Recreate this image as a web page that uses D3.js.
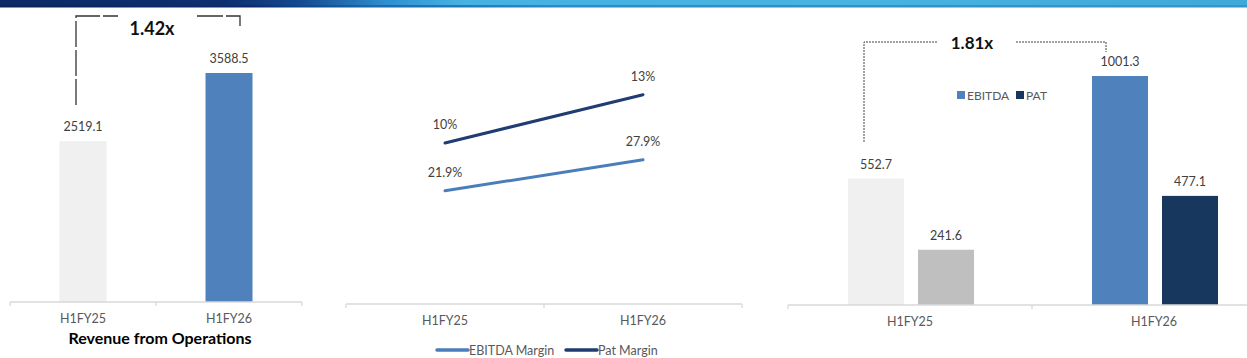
<!DOCTYPE html>
<html><head><meta charset="utf-8">
<script src="https://cdn.jsdelivr.net/npm/d3@7/dist/d3.min.js"></script>
<style>
html,body{margin:0;padding:0;background:#fff;}
svg{display:block;}
text{font-family:Lato,"Open Sans",sans-serif;}
</style></head><body>
<svg id="c" width="1247" height="358"></svg>
<script>
// ---- data ----
const categories = ["H1FY25", "H1FY26"];
const revenue = [2519.1, 3588.5];
const revenueColors = ["#f0f0f0", "#4f81bd"];
const revenueTitle = "Revenue from Operations";
const revenueMultiple = "1.42x";

const marginSeries = ["EBITDA Margin", "Pat Margin"];
const ebitdaMargin = [21.9, 27.9];
const patMargin = [10, 13];
const ebitdaMarginLabels = ["21.9%", "27.9%"];
const patMarginLabels = ["10%", "13%"];

const profitSeries = ["EBITDA", "PAT"];
const ebitda = [552.7, 1001.3];
const pat = [241.6, 477.1];
const profitMultiple = "1.81x";

const svg = d3.select("#c");

// ---- banner ----
const defs = svg.append("defs");
const g1 = defs.append("linearGradient").attr("id","ban").attr("x1","0").attr("x2","1");
[[0,"#0b2a66"],[0.18,"#0d2f70"],[0.24,"#13498f"],[0.31,"#2f8fcf"],[0.37,"#46b2e2"],[0.7,"#47b3e0"],[1,"#3fa9d8"]]
  .forEach(([o,c])=>g1.append("stop").attr("offset",o).attr("stop-color",c));
svg.append("rect").attr("x",0).attr("y",0).attr("width",1247).attr("height",7).attr("fill","url(#ban)");
const g2 = defs.append("linearGradient").attr("id","ban2").attr("x1","0").attr("x2","1");
[[0,"#0a2558"],[0.2,"#0c2c6a"],[0.3,"#1769b0"],[0.45,"#2c8cc7"],[1,"#3597c9"]]
  .forEach(([o,c])=>g2.append("stop").attr("offset",o).attr("stop-color",c));
svg.append("rect").attr("x",0).attr("y",5).attr("width",1247).attr("height",2.5).attr("fill","url(#ban2)");

const numColor = "#404040", catColor = "#595959", axisColor = "#d9d9d9";

function drawAxis(x, y0, x0, x1) {
  const g = svg.append("g");
  g.append("line").attr("x1",x0).attr("x2",x1).attr("y1",y0).attr("y2",y0)
    .attr("stroke",axisColor).attr("stroke-width",1.3);
  const ticks = [x0].concat(categories.map(c=>x(c)+x.step()));
  ticks.forEach(t=>g.append("line").attr("x1",t).attr("x2",t).attr("y1",y0).attr("y2",y0+4)
    .attr("stroke",axisColor).attr("stroke-width",1.3));
  categories.forEach(c=>g.append("text").attr("x",x(c)+x.bandwidth()/2).attr("y",y0+21)
    .attr("text-anchor","middle").attr("fill",catColor).attr("font-size",12.5).text(c));
}

// ---- left chart: revenue ----
{
  const x = d3.scaleBand().domain(categories).range([10,302]).padding(0);
  const y = d3.scaleLinear().domain([0,4000]).range([302, 302-4000*229/3588.5]);
  const bw = 47;
  categories.forEach((c,i)=>{
    const cx = x(c)+x.bandwidth()/2;
    svg.append("rect").attr("x",cx-bw/2).attr("y",y(revenue[i])).attr("width",bw)
      .attr("height",y(0)-y(revenue[i])).attr("fill",revenueColors[i]);
    svg.append("text").attr("x",cx).attr("y",y(revenue[i])-10).attr("text-anchor","middle")
      .attr("fill",numColor).attr("font-size",12.5).text(revenue[i].toFixed(1));
  });
  drawAxis(x, 302, 10, 302);
  svg.append("text").attr("x",160).attr("y",344).attr("text-anchor","middle")
    .attr("font-weight","bold").attr("font-size",16).attr("fill","#000").text(revenueTitle);
  const br = svg.append("g").attr("fill","none").attr("stroke","#333").attr("stroke-width",1.3)
    .attr("stroke-dasharray","26,3");
  br.append("path").attr("d","M76,105 V16 H118");
  br.append("path").attr("d","M197,16 H240 V26");
  svg.append("text").attr("x",152).attr("y",35).attr("text-anchor","middle").attr("font-weight","bold")
    .attr("font-family","Liberation Sans, Arial, sans-serif").attr("font-size",18).attr("fill","#111").text(revenueMultiple);
}

// ---- middle chart: margins ----
{
  const x = d3.scaleBand().domain(categories).range([346,742]).padding(0);
  const yE = d3.scaleLinear().domain([0,30]).range([304, 304-30*5.17]);
  const yP = d3.scaleLinear().domain([0,14]).range([304, 304-14*16.1]);
  const cx = c => x(c)+x.bandwidth()/2;
  const lineE = d3.line().x((d,i)=>cx(categories[i])).y(d=>yE(d));
  const lineP = d3.line().x((d,i)=>cx(categories[i])).y(d=>yP(d));
  const cE = "#4a7ebb", cP = "#1f3d73";
  svg.append("path").attr("d",lineE(ebitdaMargin)).attr("fill","none").attr("stroke",cE).attr("stroke-width",3).attr("stroke-linecap","round");
  svg.append("path").attr("d",lineP(patMargin)).attr("fill","none").attr("stroke",cP).attr("stroke-width",3).attr("stroke-linecap","round");
  categories.forEach((c,i)=>{
    svg.append("text").attr("x",cx(c)).attr("y",yE(ebitdaMargin[i])-14).attr("text-anchor","middle")
      .attr("fill",numColor).attr("font-size",12.5).text(ebitdaMarginLabels[i]);
    svg.append("text").attr("x",cx(c)).attr("y",yP(patMargin[i])-14).attr("text-anchor","middle")
      .attr("fill",numColor).attr("font-size",12.5).text(patMarginLabels[i]);
  });
  drawAxis(x, 304, 346, 742);
  const lg = [{n:marginSeries[0],c:cE,x:437},{n:marginSeries[1],c:cP,x:566}];
  lg.forEach(l=>{
    svg.append("line").attr("x1",l.x).attr("x2",l.x+31).attr("y1",350).attr("y2",350)
      .attr("stroke",l.c).attr("stroke-width",3.5).attr("stroke-linecap","round");
    svg.append("text").attr("x",l.x+32).attr("y",354.5).attr("fill",catColor).attr("font-size",12.5).text(l.n);
  });
}

// ---- right chart: EBITDA & PAT ----
{
  const x = d3.scaleBand().domain(categories).range([788,1276]).padding(0);
  const xi = d3.scaleBand().domain(profitSeries).range([60,186]).paddingInner(0.2);
  const y = d3.scaleLinear().domain([0,1200]).range([305, 305-1200*229/1001.3]);
  const colors = {H1FY25:["#f0f0f0","#bfbfbf"], H1FY26:["#4f81bd","#17375e"]};
  categories.forEach((c,i)=>{
    [ebitda[i], pat[i]].forEach((v,j)=>{
      const bx = x(c)+xi(profitSeries[j]);
      svg.append("rect").attr("x",bx).attr("y",y(v)).attr("width",xi.bandwidth())
        .attr("height",y(0)-y(v)).attr("fill",colors[c][j]);
      svg.append("text").attr("x",bx+xi.bandwidth()/2).attr("y",y(v)-10).attr("text-anchor","middle")
        .attr("fill",numColor).attr("font-size",12.5).text(v.toFixed(1));
    });
  });
  drawAxis(x, 305, 788, 1247);
  const lg = [{n:profitSeries[0],c:"#4f81bd",x:957},{n:profitSeries[1],c:"#17375e",x:1016}];
  lg.forEach(l=>{
    svg.append("rect").attr("x",l.x).attr("y",91).attr("width",8).attr("height",8).attr("fill",l.c);
    svg.append("text").attr("x",l.x+10).attr("y",99.5).attr("fill",catColor).attr("font-size",12).text(l.n);
  });
  const br = svg.append("g").attr("fill","none").attr("stroke","#444").attr("stroke-width",1)
    .attr("stroke-dasharray","2,1");
  br.append("path").attr("d","M864,142 V42 H937");
  br.append("path").attr("d","M1016,42 H1106 V52");
  svg.append("text").attr("x",972).attr("y",49).attr("text-anchor","middle").attr("font-weight","bold")
    .attr("font-family","Liberation Sans, Arial, sans-serif").attr("font-size",17).attr("fill","#111").text(profitMultiple);
}
</script>
</body></html>
